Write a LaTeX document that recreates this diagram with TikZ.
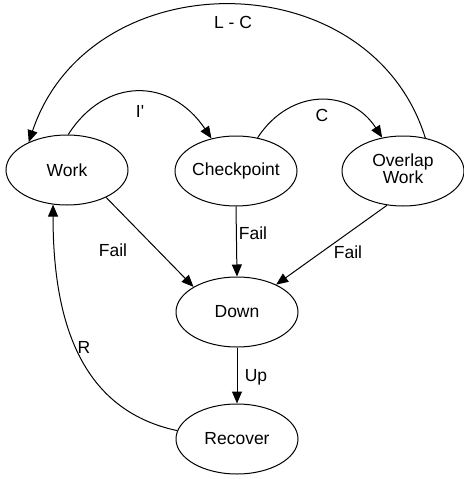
\documentclass[tikz,border=0pt]{standalone}
\usepackage{fontspec}
\setmainfont{Liberation Sans}
\usetikzlibrary{shapes.geometric,arrows.meta}
\begin{document}
\begin{tikzpicture}[x=1pt,y=-1pt,
  st/.style={ellipse,draw,line width=1pt,minimum width=122pt,minimum height=70pt,inner sep=0pt},
  lbl/.style={inner sep=0pt,font=\fontsize{17.5}{20}\selectfont},
  ed/.style={line width=1pt,-{Triangle[length=12pt,width=10pt]}},
  ln/.style={line width=1pt},
  every node/.style={font=\fontsize{17.5}{20}\selectfont}]
\useasboundingbox (0,0) rectangle (463,479);
\node[st] (w) at (67,170) {\makebox[0pt]{Work}};
\node[st] (ck) at (236,171) {\makebox[0pt]{Checkpoint}};
\node[st] (ow) at (403,171) {\makebox[0pt]{\begin{tabular}{@{}c@{}}Overlap\\[-3pt]Work\end{tabular}}};
\node[st] (dn) at (237,312) {\makebox[0pt]{Down}};
\node[st] (rc) at (237,439) {\makebox[0pt]{Recover}};
% arcs
\draw[ed] (ow.56) .. controls (370,-40) and (90,-40) .. (w.144);
\draw[ed] (w.88) .. controls (105,77) and (170,77) .. (ck.127);
\draw[ed] (ck.57) .. controls (290,88) and (350,88) .. (ow.122);
\draw[ed] (rc.172) .. controls (80,410) and (53,320) .. (w.-112);
% straight
\draw[ed] (w.-35) -- (dn.150);
\draw[ed] (ck.south) -- (dn.north);
\draw[ed] (ow.-115) -- (dn.35);
\draw[ed] (dn.south) -- (rc.north);
% labels
\node[lbl] (l1) at (233,22) {L - C};
\node[lbl] (l2) at (140,111) {I\textquotesingle};
\node[lbl] (l3) at (322,115) {C};
\node[lbl] (l4) at (113,250) {Fail};
\node[lbl] (l5) at (253,233) {Fail};
\node[lbl] (l6) at (348,252) {Fail};
\node[lbl] (l7) at (256,377) {Up};
\node[lbl] (l8) at (84,347) {R};
\end{tikzpicture}
\end{document}
